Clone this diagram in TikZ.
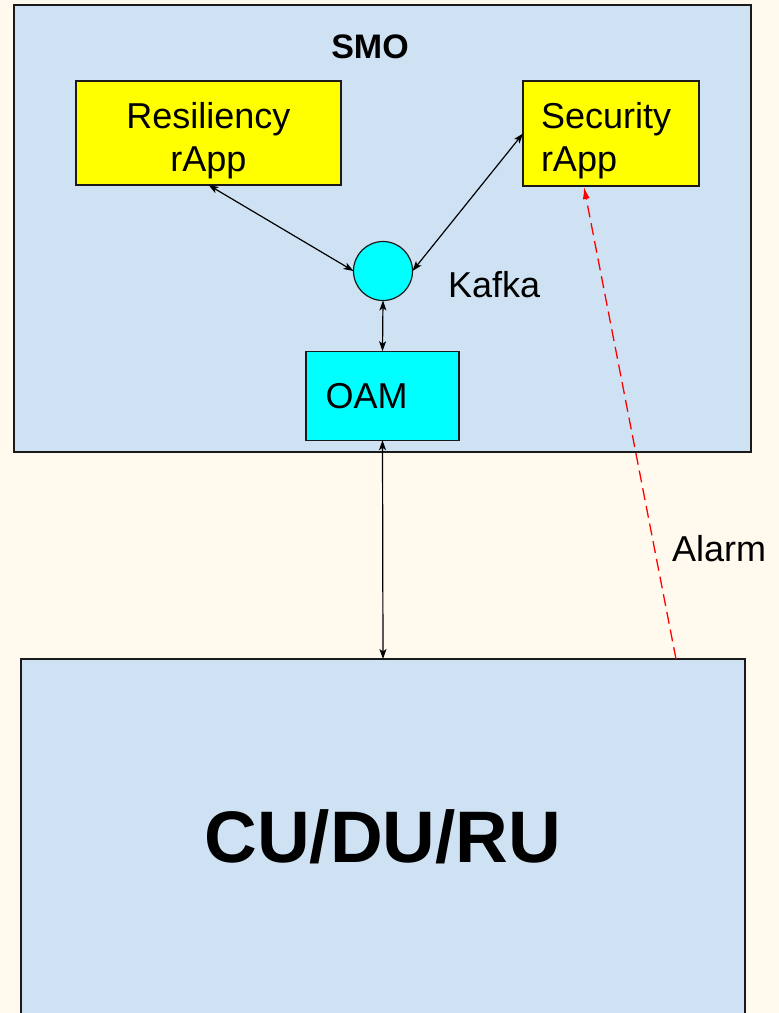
\documentclass[tikz,border=0pt]{standalone}
\usepackage{fontspec}
\setmainfont{Liberation Sans}
\usetikzlibrary{arrows.meta}
\definecolor{bg}{HTML}{FFF9EE}
\definecolor{boxblue}{HTML}{CFE2F3}
\definecolor{appyellow}{HTML}{FFFF00}
\definecolor{kcyan}{HTML}{00FFFF}
\definecolor{edgegray}{HTML}{1A1A1A}
\definecolor{alarmred}{HTML}{FF0000}
\begin{document}
\begin{tikzpicture}[x=1pt,y=-1pt,
  blockbox/.style={draw=edgegray,line width=1.4pt,fill=boxblue,inner sep=0pt,outer sep=0pt},
  appbox/.style={draw=edgegray,line width=1.2pt,fill=appyellow,outer sep=0pt,inner sep=0pt},
  oambox/.style={draw=edgegray,line width=1.2pt,fill=kcyan,outer sep=0pt,
    font=\fontsize{36}{43}\selectfont},
  plaintext/.style={inner sep=0pt,outer sep=0pt,font=\fontsize{36}{43}\selectfont},
  link/.style={draw=black,line width=1.2pt,{Stealth[length=10pt,width=7pt,inset=2.5pt]}-{Stealth[length=10pt,width=7pt,inset=2.5pt]}},
  alarmlink/.style={draw=alarmred,line width=1.3pt,dash pattern=on 12pt off 6pt,-{Latex[length=12pt,width=7pt]}}
]
\fill[bg] (0,0) rectangle (779,1013);
\useasboundingbox (0,0) rectangle (779,1013);

% SMO container
\node[blockbox,minimum width=737pt,minimum height=447pt] (smo) at (382.5,228.5) {};
\node[plaintext,font=\fontsize{34}{40}\selectfont\bfseries] (smolabel) at (370,46.5) {SMO};

% rApps
\node[appbox,minimum width=265pt,minimum height=104pt] (resil) at (208.5,133) {};
\node[plaintext,align=center] (resiltext) at ([yshift=-7.5pt]resil.center) {Resiliency\\rApp};
\node[appbox,minimum width=176pt,minimum height=105pt] (sec) at (611,133.5) {};
\node[plaintext,text width=140pt,align=left] (sectext) at ([yshift=-7.5pt]sec.center) {Security\\rApp};

% Kafka
\node[circle,draw=edgegray,line width=1.2pt,fill=kcyan,minimum size=59pt,inner sep=0pt,outer sep=0pt] (kafka) at (383,271) {};
\node[plaintext,anchor=west] (kafkalabel) at (448,284.5) {Kafka};

% OAM
\node[oambox,minimum width=153pt,minimum height=89pt,inner sep=0pt,text width=114pt,align=left] (oam) at (382.5,395.7) {OAM};

% CU/DU/RU
\node[blockbox,minimum width=724pt,minimum height=356pt,font=\fontsize{73}{80}\selectfont\bfseries] (ran) at (383,837) {CU/DU/RU};

% connectors
\draw[link] (resil.south) -- (kafka.west);
\draw[link] (sec.west) -- (kafka.east);
\draw[link] (kafka.south) -- (oam.north);
\draw[link] (oam.south) -- (ran.north);

% alarm
\coordinate (alarmstart) at (676,659);
\coordinate (alarmend) at (584,187);
\draw[alarmlink] (alarmstart) -- (alarmend);
\node[plaintext,anchor=west] (alarmlabel) at (672,548.5) {Alarm};
\end{tikzpicture}
\end{document}
